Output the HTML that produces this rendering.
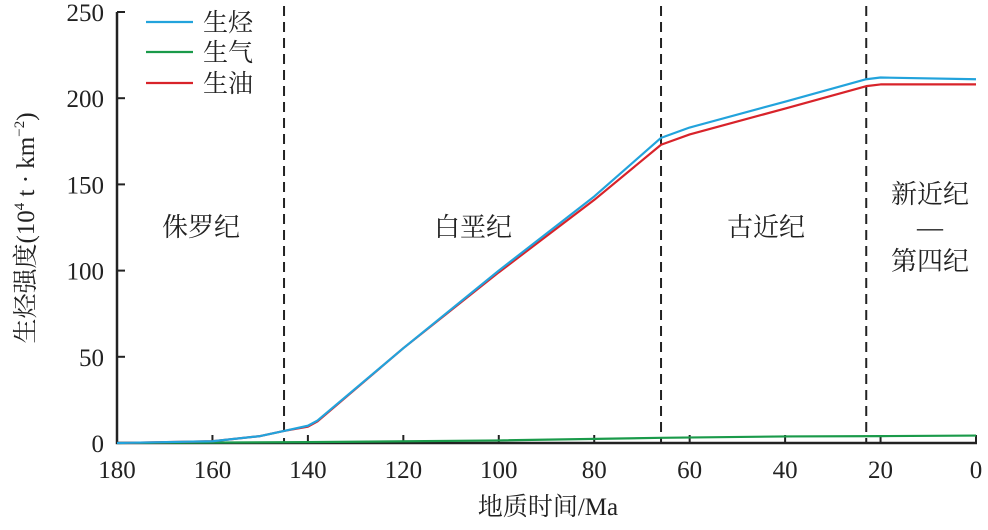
<!DOCTYPE html>
<html><head><meta charset="utf-8"><style>
body{margin:0;background:#fff}
svg text{font-family:"Liberation Serif","Noto Serif CJK SC",serif;fill:#222}
</style></head><body>
<svg width="988" height="525">
<g id="axes"></g>
<g id="series"></g>
<g id="labels"></g>
</svg>
<script>
const xTicks=[180,160,140,120,100,80,60,40,20,0];
const yTicks=[0,50,100,150,200,250];
const boundaries=[145,66,23];
const agesHc=[180,160,150,145,140,138,120,100,80,66,60,40,23,20,0];
const valsHc=[0,1,4,7,10,13,55,100,143,177,183,198,211,212,211];
const agesOil=[180,160,150,145,140,138,120,100,80,66,60,40,23,20,0];
const valsOil=[0,1,4,7,9.5,12.5,55,99,141,173,179,194,207,208,208];
const agesGas=[180,140,100,66,40,20,0];
const valsGas=[0,0.5,1.5,3,3.8,4,4.3];
const NS='http://www.w3.org/2000/svg';
const X=a=>117+(180-a)*(859/180);
const Y=v=>443-v*(431/250);
function mk(t,at,p){const e=document.createElementNS(NS,t);for(const k in at)e.setAttribute(k,at[k]);p.appendChild(e);return e;}
const ax=document.getElementById('axes'),se=document.getElementById('series'),lb=document.getElementById('labels');
let l=mk('path',{d:`M117,${Y(250)}V443H977`,stroke:'#222','stroke-width':2.5,fill:'none'},ax);


xTicks.forEach(t=>{
 let k=mk('line',{x1:X(t),x2:X(t),y1:443,y2:435,stroke:'#222','stroke-width':2},ax);
 
 
 let s=mk('text',{x:X(t),y:478,'text-anchor':'middle','font-size':25},ax);s.textContent=t;
 
 
});
yTicks.forEach(t=>{
 let k=mk('line',{x1:117,x2:125,y1:Y(t),y2:Y(t),stroke:'#222','stroke-width':2},ax);
 
 
 let s=mk('text',{x:104,y:Y(t)+9,'text-anchor':'end','font-size':25},ax);s.textContent=t;
 
 
});
boundaries.forEach(b=>{
 let d=mk('line',{x1:X(b),x2:X(b),y1:6,y2:443,stroke:'#222','stroke-width':2,'stroke-dasharray':'10,6'},ax);
 
 
});
function line(a,v,c,n){const p=mk('path',{d:a.map((t,i)=>(i?'L':'M')+X(t)+','+Y(v[i])).join(''),stroke:c,'stroke-width':2.2,fill:'none','stroke-linejoin':'round'},se);
 
 }
line(agesGas,valsGas,'#1a9a4a','gas-line');
line(agesOil,valsOil,'#d8232a','oil-line');
line(agesHc,valsHc,'#22a3dc','hydrocarbon-line');
[['#22a3dc','生烃',28],['#1a9a4a','生气',52],['#d8232a','生油',83]].forEach(([c,t,y],i)=>{
 y=[22,52,83][i];
 let g=mk('g',{},lb);
 
 
 mk('line',{x1:146,x2:193,y1:y,y2:y,stroke:c,'stroke-width':2.2},g);
 let s=mk('text',{x:203,y:y+9,'font-size':25},g);s.textContent=t;
});
[['侏罗纪',201,236],['白垩纪',473,236],['古近纪',766,236],['新近纪',930,203],['—',930,236],['第四纪',930,270]].forEach(([t,x,y])=>{
 let s=mk('text',{x:x,y:y,'text-anchor':'middle','font-size':26},lb);s.textContent=t;
 
 
});
let xt=mk('text',{x:548,y:515,'text-anchor':'middle','font-size':25},lb);xt.textContent='地质时间/Ma';


let yt=mk('text',{x:0,y:0,'text-anchor':'middle','font-size':25,transform:'translate(34,228) rotate(-90)'},lb);
yt.innerHTML='生烃强度(10<tspan font-size="15" dy="-10">4</tspan><tspan dy="10"> t · km</tspan><tspan font-size="15" dy="-10">−2</tspan><tspan dy="10">)</tspan>';


</script>
</body></html>
